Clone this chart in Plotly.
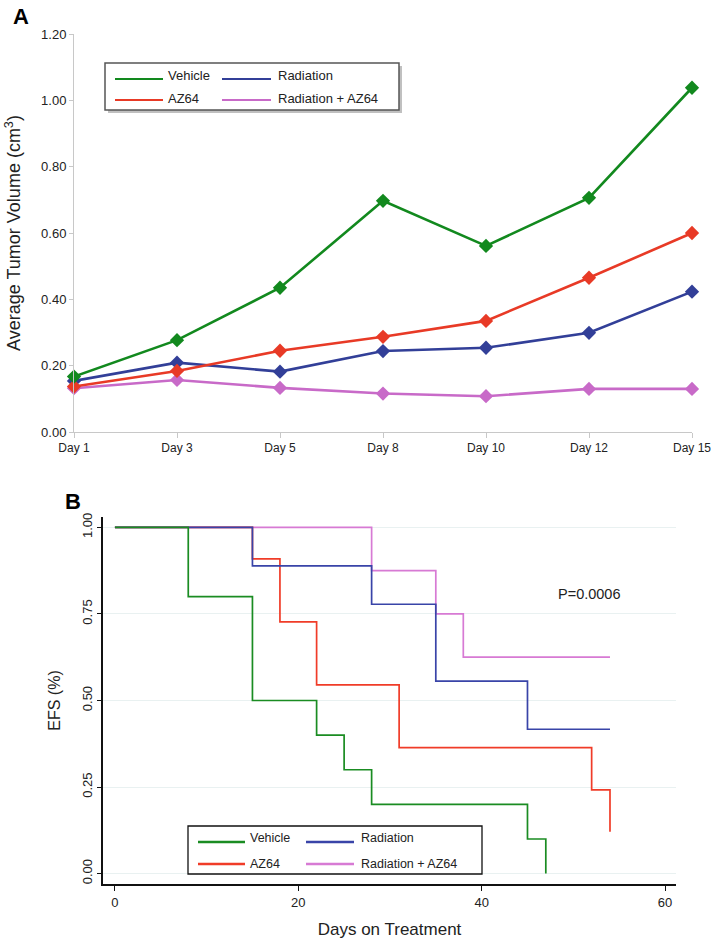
import plotly.graph_objects as go

W, H = 721, 942

# ---------------- Panel A data ----------------
days = ["Day 1", "Day 3", "Day 5", "Day 8", "Day 10", "Day 12", "Day 15"]
vol_vehicle = [0.167, 0.277, 0.435, 0.697, 0.561, 0.706, 1.038]
vol_radiation = [0.154, 0.209, 0.182, 0.244, 0.254, 0.299, 0.423]
vol_az64 = [0.137, 0.184, 0.245, 0.287, 0.335, 0.465, 0.600]
vol_combo = [0.132, 0.157, 0.133, 0.116, 0.108, 0.130, 0.130]
a_yticks = [0.0, 0.2, 0.4, 0.6, 0.8, 1.0, 1.2]

# ---------------- Panel B data ----------------
km_vehicle_t = [0, 8, 15, 22, 25, 28, 45, 47]
km_vehicle_s = [1.0, 0.8, 0.5, 0.4, 0.3, 0.2, 0.1, 0.0]
km_rad_t = [0, 15, 28, 35, 45, 54]
km_rad_s = [1.0, 0.889, 0.778, 0.556, 0.417, 0.417]
km_az_t = [0, 15, 18, 22, 31, 52, 54]
km_az_s = [1.0, 0.909, 0.727, 0.545, 0.364, 0.242, 0.121]
km_combo_t = [0, 28, 35, 38, 54]
km_combo_s = [1.0, 0.875, 0.75, 0.625, 0.625]
b_xticks = [0, 20, 40, 60]
b_yticks = [0.0, 0.25, 0.5, 0.75, 1.0]
p_value_text = "P=0.0006"

names = ["Vehicle", "Radiation", "AZ64", "Radiation + AZ64"]
colors_a = {"Vehicle": "#12891e", "Radiation": "#323f98", "AZ64": "#e83a26", "Radiation + AZ64": "#c86ac8"}
colors_b = {"Vehicle": "#1a8c22", "Radiation": "#3944a8", "AZ64": "#f03c28", "Radiation + AZ64": "#d77ad4"}

FONT = "Liberation Sans, Arial, sans-serif"


def px(x):
    return x / W


def py(y):
    return 1 - y / H


fig = go.Figure()

series_a = {"Vehicle": vol_vehicle, "Radiation": vol_radiation, "AZ64": vol_az64, "Radiation + AZ64": vol_combo}
for nm in ["Radiation + AZ64", "Radiation", "AZ64", "Vehicle"]:
    fig.add_trace(go.Scatter(
        x=days, y=series_a[nm], name=nm, mode="lines+markers",
        line=dict(color=colors_a[nm], width=2.6),
        marker=dict(symbol="diamond", size=11, color=colors_a[nm]),
        xaxis="x", yaxis="y", showlegend=False, cliponaxis=False))

series_b = {"Vehicle": (km_vehicle_t, km_vehicle_s), "Radiation": (km_rad_t, km_rad_s),
            "AZ64": (km_az_t, km_az_s), "Radiation + AZ64": (km_combo_t, km_combo_s)}
for nm in ["Radiation + AZ64", "AZ64", "Radiation", "Vehicle"]:
    t, s = series_b[nm]
    fig.add_trace(go.Scatter(
        x=t, y=s, name=nm, mode="lines", line=dict(color=colors_b[nm], width=1.7, shape="hv"),
        xaxis="x2", yaxis="y2", showlegend=False))

shapes = []
annotations = []


# --- manual legends ---
def add_legend(box, rows_y, cols, line_w, color_map, size, shadow, border_col, border_w):
    x0, y0, x1, y1 = box
    if shadow:
        shapes.append(dict(type="rect", xref="paper", yref="paper", x0=px(x0 + 3), x1=px(x1 + 3),
                           y0=py(y0 + 3), y1=py(y1 + 3), line=dict(width=0), fillcolor="#c0c0c0", layer="above"))
    shapes.append(dict(type="rect", xref="paper", yref="paper", x0=px(x0), x1=px(x1),
                       y0=py(y0), y1=py(y1), line=dict(color=border_col, width=border_w),
                       fillcolor="white", layer="above"))
    for i, nm in enumerate(names):
        r, c = divmod(i, 2)
        lx0, lx1, tx = cols[c]
        ly, ty = rows_y[r]
        shapes.append(dict(type="line", xref="paper", yref="paper", x0=px(lx0), x1=px(lx1),
                           y0=py(ly), y1=py(ly), line=dict(color=color_map[nm], width=line_w), layer="above"))
        annotations.append(dict(text=nm, xref="paper", yref="paper", x=px(tx), y=py(ty),
                                xanchor="left", yanchor="middle", showarrow=False,
                                font=dict(family=FONT, size=size, color="#222")))


add_legend((105, 63, 399, 110), [(79, 76), (100, 99)], [(115, 163, 166), (222, 271, 276)],
           2.2, colors_a, 13, True, "#555555", 1.5)
add_legend((188, 826, 482, 874), [(842, 838), (864, 864)], [(198, 245, 248), (306, 354, 359)],
           2.4, colors_b, 12.5, False, "#111111", 1.3)

# panel labels and p value
annotations.append(dict(text="<b>A</b>", xref="paper", yref="paper", x=px(11), y=py(17),
                        xanchor="left", yanchor="middle", showarrow=False,
                        font=dict(family=FONT, size=22, color="black")))
annotations.append(dict(text="<b>B</b>", xref="paper", yref="paper", x=px(63), y=py(501),
                        xanchor="left", yanchor="middle", showarrow=False,
                        font=dict(family=FONT, size=22, color="black")))
annotations.append(dict(text=p_value_text, xref="paper", yref="paper", x=px(589), y=py(594),
                        xanchor="center", yanchor="middle", showarrow=False,
                        font=dict(family=FONT, size=14.5, color="#222")))

fig.update_layout(
    width=W, height=H, margin=dict(l=0, r=0, t=0, b=0, autoexpand=False),
    paper_bgcolor="white", plot_bgcolor="white",
    font=dict(family=FONT, color="#222"),
    shapes=shapes, annotations=annotations,
    xaxis=dict(domain=[px(74), px(692)], type="category", range=[0, 6], automargin=False,
               showline=True, linecolor="#c8c8c8", linewidth=1, ticks="outside", ticklen=5,
               tickcolor="#c8c8c8", showgrid=False, zeroline=False,
               tickfont=dict(family=FONT, size=12, color="#222")),
    yaxis=dict(domain=[py(432), py(34)], range=[0, 1.2], tickvals=a_yticks, tickformat=".2f",
               automargin=False,
               showline=True, linecolor="#c8c8c8", linewidth=1, ticks="outside", ticklen=4,
               tickcolor="#c8c8c8", showgrid=False, zeroline=False,
               tickfont=dict(family=FONT, size=13, color="#222"),
               title=dict(text="Average Tumor Volume (cm<sup>3</sup>)",
                          font=dict(family=FONT, size=18, color="#222"))),
    xaxis2=dict(domain=[px(103), px(676)], range=[-1.3, 61.2], tickvals=b_xticks, automargin=False,
                showline=True, linecolor="#111", linewidth=2, ticks="outside", ticklen=5,
                tickcolor="#111", showgrid=False, zeroline=False, anchor="y2",
                tickfont=dict(family=FONT, size=13, color="#222"),
                title=dict(text="Days on Treatment",
                           font=dict(family=FONT, size=17, color="#222"))),
    yaxis2=dict(domain=[py(884), py(517)], range=[-0.03, 1.03], tickvals=b_yticks, tickformat=".2f",
                automargin=False,
                tickangle=-90, showline=True, linecolor="#111", linewidth=2, ticks="outside",
                ticklen=4, tickcolor="#111", showgrid=True, gridcolor="#e9f1f1", gridwidth=1,
                zeroline=False, anchor="x2",
                tickfont=dict(family=FONT, size=13, color="#222"),
                title=dict(text="EFS (%)", font=dict(family=FONT, size=16, color="#222"))),
)

fig.write_html("out.html", config={"displayModeBar": False},
               post_script="document.body.style.margin='0';document.body.style.overflow='hidden';")
